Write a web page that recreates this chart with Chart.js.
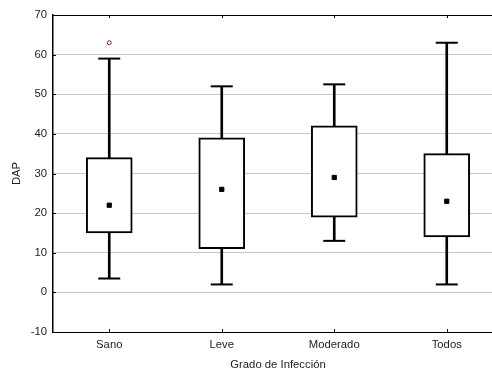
<!DOCTYPE html>
<html>
<head>
<meta charset="utf-8">
<script src="https://cdn.jsdelivr.net/npm/chart.js@4"></script>
<style>
  html, body { margin: 0; padding: 0; background: #fff; overflow: hidden; }
  #wrap { position: relative; width: 516px; height: 375px; }
  canvas { display: block; }
</style>
</head>
<body>
<div id="wrap"><canvas id="boxChart"></canvas></div>
<script>
const categories = ['Sano', 'Leve', 'Moderado', 'Todos'];
const whiskerLow = [3.5, 2, 13, 2];
const quartileLow = [15, 11, 19, 14];
const medians = [22, 26, 29, 23];
const quartileHigh = [34, 39, 42, 35];
const whiskerHigh = [59, 52, 52.5, 63];
const outliers = [63, null, null, null];

const yTicks = { min: -10, max: 70, step: 10 };
// x runs as a linear index axis; the plot frame is cut by the right edge of the picture
const xRange = { min: -0.5, max: 3.5 };

const at = (values) => values.map((v, i) => ({ x: i, y: v }));
const boxRanges = categories.map((_, i) => ({ x: i, y: [quartileLow[i], quartileHigh[i]] }));
const upperStems = categories.map((_, i) => ({ x: i, y: [quartileHigh[i], whiskerHigh[i]] }));
const lowerStems = categories.map((_, i) => ({ x: i, y: [whiskerLow[i], quartileLow[i]] }));

const font = { family: 'Liberation Sans, Arial, sans-serif', size: 11.3 };

const noSidePadding = s => { s.paddingLeft = 0; s.paddingRight = 0; };

// small inward tick marks like the original (left axis, top and bottom frame)
const innerTicks = {
  id: 'innerTicks',
  afterDraw(chart) {
    const { ctx, chartArea, scales } = chart;
    ctx.save();
    ctx.strokeStyle = '#000';
    ctx.lineWidth = 1;
    ctx.beginPath();
    scales.y.ticks.forEach(t => {
      const y = Math.round(scales.y.getPixelForValue(t.value)) + 0.5;
      ctx.moveTo(chartArea.left, y);
      ctx.lineTo(chartArea.left + 3, y);
    });
    categories.forEach((_, i) => {
      const x = Math.round(scales.x.getPixelForValue(i)) + 0.5;
      ctx.moveTo(x, chartArea.top);
      ctx.lineTo(x, chartArea.top + 3);
      ctx.moveTo(x, chartArea.bottom);
      ctx.lineTo(x, chartArea.bottom - 3);
    });
    ctx.stroke();
    ctx.restore();
  }
};

new Chart(document.getElementById('boxChart'), {
  type: 'bar',
  data: {
    datasets: [
      {
        type: 'line',
        data: at(outliers),
        showLine: false,
        pointStyle: 'circle',
        pointRadius: 2,
        pointBorderWidth: 1,
        pointBorderColor: '#8b1a1a',
        pointBackgroundColor: '#fff',
        order: 0
      },
      {
        type: 'line',
        data: at(medians),
        showLine: false,
        pointStyle: 'rect',
        pointRadius: 3,
        pointBorderWidth: 1,
        pointBorderColor: '#000',
        pointBackgroundColor: '#000',
        order: 1
      },
      {
        type: 'line',
        data: at(whiskerHigh),
        showLine: false,
        pointStyle: 'line',
        pointRadius: 11,
        pointBorderWidth: 2,
        pointBorderColor: '#000',
        order: 2
      },
      {
        type: 'line',
        data: at(whiskerLow),
        showLine: false,
        pointStyle: 'line',
        pointRadius: 11,
        pointBorderWidth: 2,
        pointBorderColor: '#000',
        order: 2
      },
      {
        data: boxRanges,
        grouped: false,
        barThickness: 46,
        backgroundColor: '#fff',
        borderColor: '#000',
        borderWidth: 2,
        borderSkipped: false,
        order: 3
      },
      {
        data: upperStems,
        grouped: false,
        barThickness: 2,
        backgroundColor: '#000',
        borderWidth: 0,
        order: 4
      },
      {
        data: lowerStems,
        grouped: false,
        barThickness: 2,
        backgroundColor: '#000',
        borderWidth: 0,
        order: 4
      }
    ]
  },
  options: {
    responsive: true,
    maintainAspectRatio: false,
    animation: false,
    devicePixelRatio: 1,
    layout: { padding: { top: 15, right: 2, left: 0, bottom: 0 } },
    plugins: { legend: { display: false }, tooltip: { enabled: false } },
    scales: {
      x: {
        type: 'linear',
        position: 'bottom',
        offset: false,
        min: xRange.min,
        max: xRange.max,
        afterFit: s => { s.height = 43; noSidePadding(s); },
        afterBuildTicks: s => { s.ticks = categories.map((_, i) => ({ value: i })); },
        grid: { display: false, drawTicks: false },
        border: { color: '#000', width: 1 },
        ticks: {
          font, color: '#222', padding: 6, autoSkip: false, maxRotation: 0,
          callback: v => categories[v] ?? ''
        },
        title: { display: true, text: 'Grado de Infección', font, color: '#222', padding: { top: 4, bottom: 3 } }
      },
      x2: {
        type: 'linear',
        position: 'top',
        offset: false,
        min: xRange.min,
        max: xRange.max,
        afterFit: s => { s.height = 0; noSidePadding(s); },
        grid: { display: false, drawTicks: false },
        border: { color: '#000', width: 1 },
        ticks: { display: false }
      },
      y: {
        min: yTicks.min,
        max: yTicks.max,
        afterFit: s => { s.width = 53; },
        ticks: { stepSize: yTicks.step, font, color: '#222', padding: 6 },
        grid: {
          drawTicks: false,
          color: c => (c.tick && (c.tick.value === yTicks.min || c.tick.value === yTicks.max)) ? 'rgba(0,0,0,0)' : '#c8c8c8',
          lineWidth: 1
        },
        border: { color: '#000', width: 1.5 },
        title: { display: true, text: 'DAP', font, color: '#222', padding: { top: 10, bottom: 4 } }
      }
    }
  },
  plugins: [innerTicks]
});
</script>
</body>
</html>
